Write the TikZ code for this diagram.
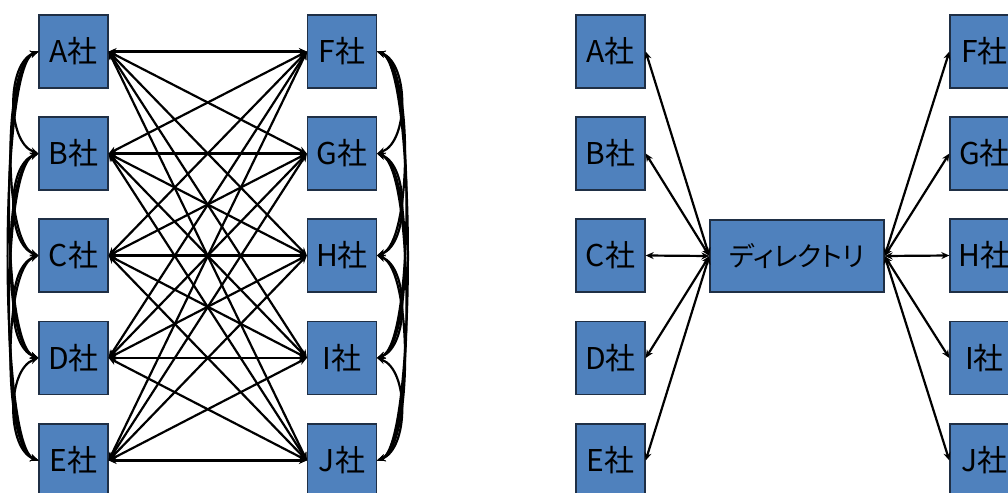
\documentclass[tikz,border=0pt]{standalone}
\usepackage{fontspec}
\setmainfont{Noto Sans CJK JP}[RawFeature=+palt]
\usetikzlibrary{arrows.meta}
\definecolor{boxblue}{HTML}{4F81BD}
\definecolor{boxedge}{HTML}{1F2F45}
\begin{document}
\begin{tikzpicture}[x=1pt,y=-1pt,
  cobox/.style={draw=boxedge,line width=1.3pt,fill=boxblue,minimum width=69pt,minimum height=73pt,inner sep=0pt,font=\fontsize{30}{30}\selectfont},
  dirbox/.style={draw=boxedge,line width=1.3pt,fill=boxblue,minimum width=174pt,minimum height=72pt,inner sep=0pt,font=\fontsize{27}{27}\selectfont},
  link/.style={line width=2.2pt,{Stealth[length=8pt,width=7pt]}-{Stealth[length=8pt,width=7pt]}}
]
\useasboundingbox (0,0) rectangle (1008,492);
% left diagram
\foreach \n/\y in {A/51.5,B/153.5,C/255.5,D/358,E/460.5}{\node[cobox] (l\n) at (73.5,\y) {{\n}社};}
\foreach \n/\y in {F/51.5,G/153.5,H/255.5,I/358,J/460.5}{\node[cobox] (l\n) at (342,\y) {{\n}社};}
% right diagram
\foreach \n/\y in {A/51.5,B/153.5,C/255.5,D/358,E/460.5}{\node[cobox] (r\n) at (610.5,\y) {{\n}社};}
\foreach \n/\y in {F/51.5,G/153.5,H/255.5,I/358,J/460.5}{\node[cobox] (r\n) at (984.5,\y) {{\n}社};}
\node[dirbox] (dir) at (797,256) {ディレクトリ};
% bipartite links
\foreach \a in {A,B,C,D,E}{\foreach \b in {F,G,H,I,J}{\draw[link] (l\a.east) -- (l\b.west);}}
% left side arcs
\foreach \a/\b/\d in {A/B/34,A/C/38,A/D/40,A/E/42,B/C/34,B/D/38,B/E/40,C/D/34,C/E/38,D/E/34}{
  \draw[link] (l\a.west) to[out=200,in=160,distance=\d pt] (l\b.west);}
\foreach \a/\b/\d in {F/G/34,F/H/38,F/I/40,F/J/42,G/H/34,G/I/38,G/J/40,H/I/34,H/J/38,I/J/34}{
  \draw[link] (l\a.east) to[out=-20,in=20,distance=\d pt] (l\b.east);}
% directory links
\foreach \n in {A,B,C,D,E}{\draw[link] (dir.west) -- (r\n.east);}
\foreach \n in {F,G,H,I,J}{\draw[link] (dir.east) -- (r\n.west);}
\end{tikzpicture}
\end{document}
